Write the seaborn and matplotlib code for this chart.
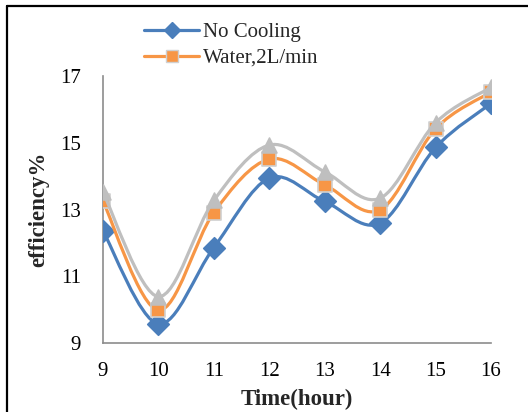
import matplotlib
matplotlib.use("Agg")
import matplotlib.pyplot as plt
import seaborn as sns
import numpy as np
from matplotlib.path import Path
from matplotlib.patches import PathPatch
from matplotlib.lines import Line2D

hours = [9, 10, 11, 12, 13, 14, 15, 16]
no_cooling = [12.36, 9.57, 11.86, 13.94, 13.24, 12.59, 14.86, 16.18]
water_2l = [13.25, 9.98, 12.91, 14.51, 13.74, 12.99, 15.42, 16.52]
third_series = [13.52, 10.39, 13.27, 14.93, 14.13, 13.34, 15.60, 16.66]

labels = ["No Cooling", "Water,2L/min"]
y_ticks = [9, 11, 13, 15, 17]

blue = "#4A7EBB"
orange = "#F79646"
grey = "#BFBFBF"

sns.set_theme(style="white")
plt.rcParams['font.family'] = ['Liberation Serif', 'DejaVu Serif']


def smooth_path(xs, ys):
    # bezier through the points, like excel "smoothed line"
    pts = np.column_stack([xs, ys]).astype(float)
    n = len(pts)
    verts = [pts[0]]
    codes = [Path.MOVETO]
    for i in range(n - 1):
        p0 = pts[i - 1] if i > 0 else pts[i]
        p1 = pts[i]
        p2 = pts[i + 1]
        p3 = pts[i + 2] if i + 2 < n else pts[i + 1]
        c1 = p1 + (p2 - p0) / 6.0
        c2 = p2 - (p3 - p1) / 6.0
        verts += [c1, c2, p2]
        codes += [Path.CURVE4] * 3
    return Path(verts, codes)


fig = plt.figure(figsize=(5.28, 4.12), dpi=100)
ax = fig.add_axes([0.195, 0.1675, 0.735, 0.648])

series = [
    (no_cooling, blue, "D", 120, blue),
    (water_2l, orange, "s", 95, "#D0D0D0"),
    (third_series, grey, "^", 115, grey),
]
z = 2
for vals, col, mk, size, edge in series:
    ax.add_patch(PathPatch(smooth_path(hours, vals), fill=False, edgecolor=col,
                           lw=2.3, zorder=z, capstyle="round", joinstyle="round"))
    sns.scatterplot(x=hours, y=vals, marker=mk, s=size, color=col, edgecolor=edge,
                    linewidth=1.2, ax=ax, zorder=z + 1, legend=False)
    z += 2

ax.set_xlim(9, 16)
ax.set_ylim(9, 17)
ax.set_xticks(hours)
ax.set_yticks(y_ticks)
ax.tick_params(axis="both", length=0, labelsize=15, colors="black")
ax.tick_params(axis="x", pad=14)
ax.tick_params(axis="y", pad=16)

for s in ["top", "right"]:
    ax.spines[s].set_visible(False)
for s in ["left", "bottom"]:
    ax.spines[s].set_color("#8C8C8C")
    ax.spines[s].set_linewidth(1.2)

ax.set_xlabel("Time(hour)", fontsize=16.5, fontweight="bold", labelpad=5)
ax.set_ylabel("efficiency%", fontsize=16.5, fontweight="bold", labelpad=8)

handles = [
    Line2D([], [], color=blue, lw=2.3, marker="D", ms=8, mfc=blue, mec=blue),
    Line2D([], [], color=orange, lw=2.3, marker="s", ms=9, mfc=orange, mec="#D0D0D0"),
]
fig.legend(handles, labels, loc="upper left", bbox_to_anchor=(0.245, 0.98),
           frameon=False, fontsize=15, handlelength=2.65, handletextpad=0.2,
           labelspacing=0.28, borderpad=0.2)

# outer frame lines (left and top only)
fig.add_artist(Line2D([0.0142, 0.0142], [0, 0.986], transform=fig.transFigure,
                      color="black", lw=1.6))
fig.add_artist(Line2D([0.0142, 1.0], [0.986, 0.986], transform=fig.transFigure,
                      color="black", lw=1.6))

fig.savefig("out.png", dpi=100)
